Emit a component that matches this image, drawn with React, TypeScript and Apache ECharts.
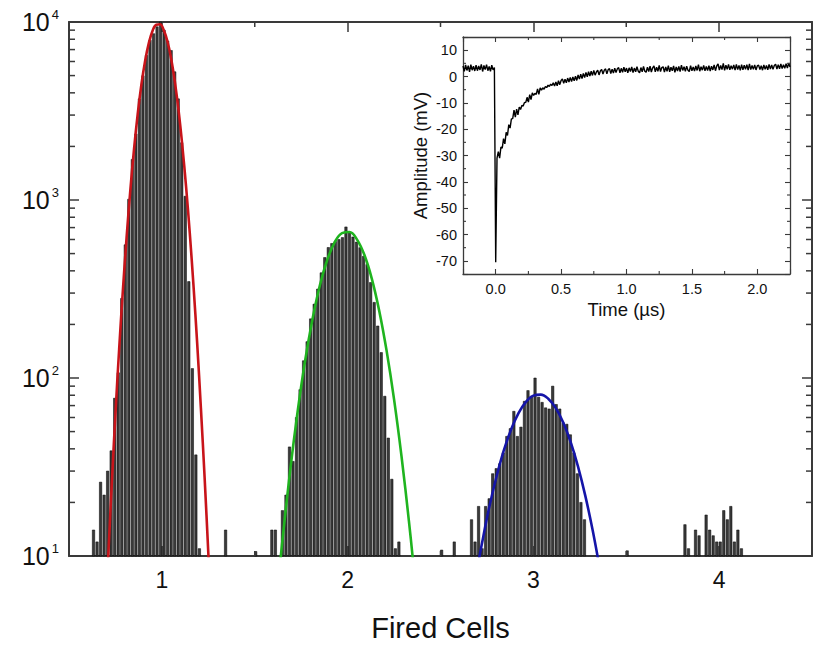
import React, { useEffect, useRef } from 'react';
import * as echarts from 'echarts';

// ---------- main histogram data (bin width in "fired cells" units) ----------
const BIN = 0.019;
const peak1Start = 0.632;
const peak1Counts = [14, 12, 26, 22, 30, 39, 77, 107, 280, 560, 1010, 1690, 2350, 3700, 4990, 6500, 7900, 8600, 9400, 10000, 9000, 7820, 6920, 5250, 3700, 2100, 1050, 348, 113, 37, 11];
const peak2Start = 1.592;
const peak2Counts = [14, 14, 0, 18, 22, 41, 34, 60, 86, 125, 160, 215, 260, 316, 390, 475, 541, 570, 585, 600, 615, 706, 656, 620, 580, 540, 483, 434, 344, 266, 196, 139, 79, 46, 27, 11, 12];
const peak3Start = 2.667;
const peak3Counts = [16, 12, 19, 11, 19, 21, 29, 31, 33, 38, 47, 52, 65, 47, 53, 74, 85, 79, 100, 78, 73, 68, 67, 90, 71, 67, 56, 55, 48, 38, 29, 20, 16];
const peak4Start = 3.816;
const peak4Counts = [15, 11, 0, 14, 13, 0, 17, 14, 13, 12, 12, 18, 16, 19, 12, 14, 11];
const strayX = [1.343, 1.505, 2.506, 2.574, 3.505];
const strayCounts = [14, 10.6, 10.8, 12, 10.7];

// ---------- fit curves ----------
const redFitX = [0.71, 0.73, 0.75, 0.77, 0.79, 0.81, 0.83, 0.85, 0.87, 0.89, 0.91, 0.93, 0.95, 0.97, 0.99, 1.01, 1.03, 1.05, 1.07, 1.09, 1.11, 1.13, 1.15, 1.17, 1.19, 1.21, 1.23, 1.25, 1.26];
const redFitY = [9.4, 25, 62.7, 145, 310, 614, 1130, 1928, 3048, 4467, 6067, 7638, 8933, 9660, 9705, 9016, 7780, 6223, 4613, 3177, 2023, 1197, 655, 333, 157, 68, 27.7, 10.4, 6.2];
const greenFitX = [1.63, 1.65, 1.69, 1.73, 1.77, 1.81, 1.85, 1.89, 1.93, 1.97, 2.01, 2.05, 2.09, 2.13, 2.17, 2.21, 2.25, 2.29, 2.33, 2.36];
const greenFitY = [7.8, 12.5, 29.8, 63.8, 123, 212, 330, 460, 578, 652, 661, 601, 492, 362, 239, 142, 75.9, 36.4, 15.7, 7.8];
const blueFitX = [2.70, 2.72, 2.76, 2.80, 2.84, 2.88, 2.92, 2.96, 3.00, 3.04, 3.08, 3.12, 3.16, 3.20, 3.24, 3.28, 3.32, 3.36];
const blueFitY = [8.7, 11.3, 18.3, 27.5, 38.9, 51.4, 63.5, 73.5, 79.6, 80.7, 76.5, 67.9, 56.4, 43.9, 31.9, 21.7, 13.8, 8.2];

// ---------- inset waveform (µs, mV) ----------
const WAVE_DT = 0.01;
const wavePreStart = -0.25;
const wavePre = [4.0, 2.0, 4.4, 2.3, 4.1, 1.8, 4.5, 2.4, 3.9, 2.1, 4.3, 2.2, 4.0, 2.5, 4.6, 1.9, 4.2, 2.6, 4.5, 2.2, 3.8, 2.0, 4.3, 2.5, 3.4];
const waveDecayStart = 0.0;
const waveDecay = [-70.5, -31, -28.5, -31.0, -26.8, -27.2, -23.6, -25.6, -21.2, -22.4, -18.3, -19.6, -16.1, -16.0, -12.8, -15.4, -12.4, -14.6, -11.6, -12.5, -11.0, -11.2, -9.9, -9.8, -7.9, -9.7, -6.9, -8.8, -6.2, -7.2, -6.4, -6.8, -4.7, -6.8, -4.3, -5.2, -4.3, -4.8, -3.8, -4.2, -3.3, -3.8, -2.9, -3.4, -2.4, -3.6, -2.1, -3.5, -1.6, -3.1, -1.5];
const waveTailStart = 0.51;
const waveTail = [
  -0.9, -2.6, -1.0, -2.4, -0.6, -2.1, -0.4, -1.9, -0.2, -1.6,
  0.1, -1.5, 0.6, -1.0, 0.9, -0.8, 1.2, -0.4, 1.5, -0.1,
  1.8, 0.2, 2.0, 0.4, 2.3, 0.5, 1.7, 2.4, 0.6, 2.1,
  2.7, 0.9, 2.4, 2.9, 1.0, 2.6, 3.0, 1.1, 2.8, 1.3,
  3.2, 1.5, 2.9, 3.4, 1.4, 3.1, 1.6, 3.5, 1.8, 3.2,
  1.4, 3.3, 1.9, 3.6, 1.5, 3.2, 1.8, 3.7, 2.0, 1.4,
  3.4, 1.8, 3.8, 2.0, 1.6, 3.5, 1.9, 3.9, 1.7, 3.3,
  4.0, 1.8, 3.5, 2.0, 4.2, 1.9, 3.4, 3.7, 1.7, 3.6,
  2.0, 4.1, 1.8, 3.5, 2.2, 4.0, 1.6, 3.6, 2.1, 3.8,
  1.9, 4.3, 2.3, 3.7, 2.0, 3.9, 2.4, 1.9, 4.1, 2.2,
  3.6, 2.1, 4.0, 2.3, 4.5, 2.0, 3.7, 2.4, 4.2, 2.2,
  3.8, 2.3, 4.1, 2.1, 3.9, 2.5, 4.4, 2.2, 4.0, 4.8,
  2.4, 4.2, 2.6, 5.0, 2.3, 4.3, 2.7, 4.6, 2.5, 4.1,
  2.8, 4.4, 2.4, 4.6, 2.6, 4.2, 2.3, 4.5, 2.5, 4.3,
  2.7, 4.5, 2.4, 4.8, 2.6, 4.2, 2.7, 4.4, 2.5, 4.0,
  4.3, 2.6, 4.1, 2.4, 4.4, 2.7, 4.2, 2.5, 4.6, 2.8,
  4.4, 2.7, 4.2, 4.7, 2.8, 4.5, 2.9, 4.8, 3.0, 4.5,
  3.1, 4.9, 3.2, 5.1, 3.6,
];

// ---------- tick positions ----------
const logMinorTicks = [20, 30, 40, 50, 60, 70, 80, 90, 200, 300, 400, 500, 600, 700, 800, 900, 2000, 3000, 4000, 5000, 6000, 7000, 8000, 9000];
const mainXMinorTicks = [1.5, 2.5, 3.5];
const insetXMinorTicks = [0.25, 0.75, 1.25, 1.75];
const insetYMinorTicks = [5, -5, -15, -25, -35, -45, -55, -65];

const FONT = "'Liberation Sans', Arial, Helvetica, sans-serif";
const AX = '#3a3a3a';
const TXT = '#111';

function clusterData(start: number, counts: number[]) {
  const out: number[][] = [];
  counts.forEach((c, i) => {
    if (c > 0) out.push([start + i * BIN, c]);
  });
  return out;
}

function seriesFrom(xs: number[], ys: number[]) {
  return xs.map((x, i) => [x, ys[i]]);
}

function waveData() {
  const out: number[][] = [];
  wavePre.forEach((v, i) => out.push([wavePreStart + i * WAVE_DT, v]));
  waveDecay.forEach((v, i) => out.push([waveDecayStart + i * WAVE_DT, v]));
  waveTail.forEach((v, i) => out.push([waveTailStart + i * WAVE_DT, v]));
  return out;
}

function buildOption(): any {
  const barData = [
    ...clusterData(peak1Start, peak1Counts),
    ...clusterData(peak2Start, peak2Counts),
    ...clusterData(peak3Start, peak3Counts),
    ...clusterData(peak4Start, peak4Counts),
    ...strayX.map((x, i) => [x, strayCounts[i]]),
  ];

  const mainAxisLine = { onZero: false, lineStyle: { color: AX, width: 2 } };
  const mainTick = { inside: true, length: 10, lineStyle: { color: AX, width: 1.5 } };
  const insetAxisLine = { onZero: false, lineStyle: { color: AX, width: 1.3 } };
  const insetTick = { inside: true, length: 5, lineStyle: { color: AX, width: 1.1 } };

  const tickLine = (x1: number, y1: number, x2: number, y2: number, w: number) => ({
    type: 'line',
    shape: { x1, y1, x2, y2 },
    style: { stroke: AX, lineWidth: w },
  });

  return {
    animation: false,
    backgroundColor: '#fff',
    grid: [
      { left: 69, top: 22, right: 5, bottom: 90, containLabel: false },
      { left: 463, top: 37, right: 27, bottom: 373, containLabel: false, show: true, backgroundColor: '#fff', borderWidth: 0 },
    ],
    xAxis: [
      {
        gridIndex: 0, type: 'value', min: 0.5, max: 4.5, splitNumber: 4, position: 'bottom',
        axisLine: mainAxisLine, axisTick: mainTick, splitLine: { show: false },
        axisLabel: {
          formatter: (v: number) => (Math.abs(v - Math.round(v)) < 1e-6 ? String(Math.round(v)) : ''),
          fontSize: 23, color: TXT, margin: 12, fontFamily: FONT,
        },
        name: 'Fired Cells', nameLocation: 'middle', nameGap: 57,
        nameTextStyle: { fontSize: 29, color: TXT, fontFamily: FONT },
      },
      {
        gridIndex: 0, type: 'value', min: 0.5, max: 4.5, splitNumber: 4, position: 'top',
        axisLine: mainAxisLine, axisTick: mainTick, splitLine: { show: false }, axisLabel: { show: false },
      },
      {
        gridIndex: 1, type: 'value', min: -0.25, max: 2.25, splitNumber: 5, position: 'bottom',
        axisLine: insetAxisLine, axisTick: insetTick, splitLine: { show: false },
        axisLabel: {
          formatter: (v: number) => (Math.abs(v * 2 - Math.round(v * 2)) < 1e-6 ? v.toFixed(1) : ''),
          fontSize: 14.5, color: TXT, margin: 7, fontFamily: FONT,
        },
        name: 'Time (µs)', nameLocation: 'middle', nameGap: 26,
        nameTextStyle: { fontSize: 18.5, color: TXT, fontFamily: FONT },
      },
      {
        gridIndex: 1, type: 'value', min: -0.25, max: 2.25, splitNumber: 5, position: 'top',
        axisLine: insetAxisLine, axisTick: insetTick, splitLine: { show: false }, axisLabel: { show: false },
      },
    ],
    yAxis: [
      {
        gridIndex: 0, type: 'log', logBase: 10, min: 10, max: 10000, position: 'left',
        axisLine: mainAxisLine, axisTick: mainTick, splitLine: { show: false }, minorTick: { show: false },
        axisLabel: {
          margin: 10,
          formatter: (v: number) => `{b|10}{s|${Math.round(Math.log10(v))}}`,
          rich: {
            b: { fontSize: 25, fontFamily: FONT, color: TXT, lineHeight: 28 },
            s: { fontSize: 13, fontFamily: FONT, color: TXT, lineHeight: 14, verticalAlign: 'top', padding: [0, 0, 0, 2] },
          },
        },
      },
      {
        gridIndex: 0, type: 'log', logBase: 10, min: 10, max: 10000, position: 'right',
        axisLine: mainAxisLine, axisTick: mainTick, splitLine: { show: false }, axisLabel: { show: false },
      },
      {
        gridIndex: 1, type: 'value', min: -75, max: 15, splitNumber: 9, position: 'left',
        axisLine: insetAxisLine, axisTick: insetTick, splitLine: { show: false },
        axisLabel: {
          formatter: (v: number) => (Math.abs(v % 10) < 1e-6 ? String(v) : ''),
          fontSize: 14.5, color: TXT, margin: 6, fontFamily: FONT,
        },
        name: 'Amplitude (mV)', nameLocation: 'middle', nameGap: 33,
        nameTextStyle: { fontSize: 18.5, color: TXT, fontFamily: FONT },
      },
      {
        gridIndex: 1, type: 'value', min: -75, max: 15, splitNumber: 9, position: 'right',
        axisLine: insetAxisLine, axisTick: insetTick, splitLine: { show: false }, axisLabel: { show: false },
      },
    ],
    series: [
      {
        type: 'custom', name: 'histogram', xAxisIndex: 0, yAxisIndex: 0, silent: true, z: 2,
        data: barData,
        renderItem: (params: any, api: any) => {
          const x = api.value(0);
          const v = api.value(1);
          const p0 = api.coord([x - BIN * 0.34, v]);
          const p1 = api.coord([x + BIN * 0.34, 10]);
          return {
            type: 'rect',
            shape: { x: p0[0], y: p0[1], width: p1[0] - p0[0], height: p1[1] - p0[1] },
            style: { fill: '#3a3a3a', stroke: '#000', lineWidth: 0.5 },
          };
        },
      },
      {
        type: 'line', name: 'fit1', xAxisIndex: 0, yAxisIndex: 0, data: seriesFrom(redFitX, redFitY),
        smooth: 0.4, showSymbol: false, symbol: 'none', z: 5,
        lineStyle: { color: '#c8141a', width: 2.6 },
      },
      {
        type: 'line', name: 'fit2', xAxisIndex: 0, yAxisIndex: 0, data: seriesFrom(greenFitX, greenFitY),
        smooth: 0.4, showSymbol: false, symbol: 'none', z: 5,
        lineStyle: { color: '#1fb41f', width: 2.6 },
      },
      {
        type: 'line', name: 'fit3', xAxisIndex: 0, yAxisIndex: 0, data: seriesFrom(blueFitX, blueFitY),
        smooth: 0.4, showSymbol: false, symbol: 'none', z: 5,
        lineStyle: { color: '#1515a8', width: 2.6 },
      },
      {
        type: 'custom', name: 'yMinor', xAxisIndex: 0, yAxisIndex: 0, silent: true, z: 6,
        data: logMinorTicks.map((v) => [0.5, v]),
        renderItem: (params: any, api: any) => {
          const v = api.value(1);
          const l = api.coord([0.5, v]);
          const r = api.coord([4.5, v]);
          return {
            type: 'group',
            children: [tickLine(l[0], l[1], l[0] + 6, l[1], 1.5), tickLine(r[0] - 6, r[1], r[0], r[1], 1.5)],
          };
        },
      },
      {
        type: 'custom', name: 'xMinor', xAxisIndex: 0, yAxisIndex: 0, silent: true, z: 6,
        data: mainXMinorTicks.map((v) => [v, 10]),
        renderItem: (params: any, api: any) => {
          const v = api.value(0);
          const b = api.coord([v, 10]);
          const t = api.coord([v, 10000]);
          return {
            type: 'group',
            children: [tickLine(b[0], b[1], b[0], b[1] - 5, 1.5), tickLine(t[0], t[1], t[0], t[1] + 5, 1.5)],
          };
        },
      },
      {
        type: 'line', name: 'waveform', xAxisIndex: 2, yAxisIndex: 2, data: waveData(),
        showSymbol: false, symbol: 'none', z: 5,
        lineStyle: { color: '#000', width: 1.4 },
      },
      {
        type: 'custom', name: 'insetXMinor', xAxisIndex: 2, yAxisIndex: 2, silent: true, z: 6,
        data: insetXMinorTicks.map((v) => [v, -75]),
        renderItem: (params: any, api: any) => {
          const v = api.value(0);
          const b = api.coord([v, -75]);
          const t = api.coord([v, 15]);
          return {
            type: 'group',
            children: [tickLine(b[0], b[1], b[0], b[1] - 3, 1.1), tickLine(t[0], t[1], t[0], t[1] + 3, 1.1)],
          };
        },
      },
      {
        type: 'custom', name: 'insetYMinor', xAxisIndex: 2, yAxisIndex: 2, silent: true, z: 6,
        data: insetYMinorTicks.map((v) => [-0.25, v]),
        renderItem: (params: any, api: any) => {
          const v = api.value(1);
          const l = api.coord([-0.25, v]);
          const r = api.coord([2.25, v]);
          return {
            type: 'group',
            children: [tickLine(l[0], l[1], l[0] + 3, l[1], 1.1), tickLine(r[0] - 3, r[1], r[0], r[1], 1.1)],
          };
        },
      },
    ],
  };
}

export default function App() {
  const ref = useRef<HTMLDivElement>(null);
  useEffect(() => {
    if (!ref.current) return;
    const chart = echarts.init(ref.current, undefined, { renderer: 'svg' });
    chart.setOption(buildOption());
    return () => {
      chart.dispose();
    };
  }, []);
  return (
    <div
      ref={ref}
      style={{ position: 'fixed', left: 0, top: 0, width: 817, height: 647, background: '#fff' }}
    />
  );
}
